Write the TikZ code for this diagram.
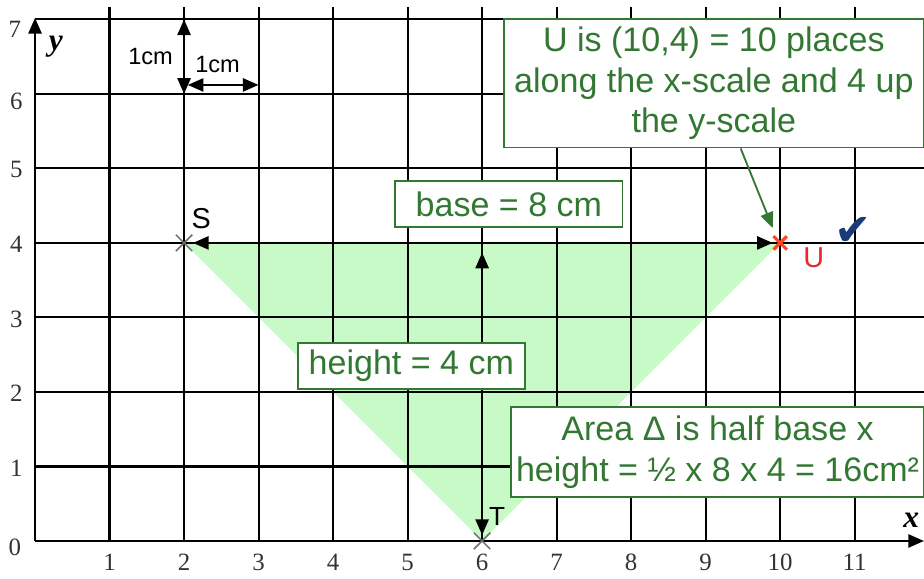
\documentclass[tikz,border=0pt]{standalone}
\usepackage{fontspec}
\setmainfont{Liberation Serif}
\setsansfont{Liberation Sans}
\newfontfamily\dejavu{DejaVu Sans}
\usetikzlibrary{arrows.meta,calc}
\definecolor{boxgreen}{RGB}{50,120,50}
\definecolor{fillgreen}{RGB}{200,250,200}
\definecolor{crossgrey}{RGB}{110,110,110}
\definecolor{ured}{RGB}{230,40,40}
\definecolor{ucross}{RGB}{255,70,30}
\definecolor{checkblue}{RGB}{25,60,120}
\tikzset{
  gridline/.style={black, line width=0.8pt},
  blackarrow/.style={black, line width=0.9pt, {Triangle[length=6pt,width=5pt]}-{Triangle[length=6pt,width=5pt]}},
  axisarrow/.style={black, line width=0.9pt, -{Triangle[length=6pt,width=5pt]}},
  infobox/.style={draw=boxgreen, line width=0.7pt, fill=white, text=boxgreen, font=\sffamily\fontsize{13}{15.5}\selectfont, align=center, inner sep=0pt},
  numlabel/.style={font=\fontsize{9.5}{10}\selectfont, text=black!80},
  smallsans/.style={font=\sffamily\fontsize{9}{10}\selectfont},
  ptlabel/.style={font=\sffamily\fontsize{11}{12}\selectfont},
  crossmark/.style={line width=0.6pt}
}
\begin{document}
\begin{tikzpicture}
\useasboundingbox (-0.47,-0.50) rectangle (11.93,7.26);
% triangle fill
\coordinate (S) at (2,4);
\coordinate (U) at (10,4);
\coordinate (T) at (6,0);
\fill[fillgreen] (S) -- (U) -- (T) -- cycle;
% grid
\foreach \x in {1,...,11} \draw[gridline] (\x,0) -- (\x,7.17);
\foreach \y in {1,...,7} \draw[gridline] (0,\y) -- (11.93,\y);
% axes
\coordinate (O) at (0,0);
\coordinate (xend) at (11.93,0);
\coordinate (yend) at (0,7.02);
\draw[axisarrow] (O) -- (xend);
\draw[axisarrow] (O) -- (yend);
\node[font=\bfseries\itshape\fontsize{12}{12}\selectfont] (xlab) at (11.76,0.28) {x};
\node[font=\bfseries\itshape\fontsize{12}{12}\selectfont] (ylab) at (0.28,6.64) {y};
% axis numbers
\node[numlabel] (n0) at (-0.27,-0.09) {0};
\foreach \x in {1,...,11} \node[numlabel] (nx\x) at (\x,-0.29) {\x};
\foreach \y in {1,...,5} \node[numlabel] (ny\y) at (-0.25,\y-0.02) {\y};
\node[numlabel] (ny6) at (-0.25,5.9) {6};
\node[numlabel] (ny7) at (-0.27,6.87) {7};
% 1cm arrows
\coordinate (va) at (2,6.0);
\coordinate (vb) at (2,7.0);
\coordinate (ha) at (2.05,6.12);
\coordinate (hb) at (3,6.12);
\draw[blackarrow] (va) -- (vb);
\draw[blackarrow] (ha) -- (hb);
\node[smallsans] (cm1) at (1.55,6.5) {1cm};
\node[smallsans] (cm2) at (2.45,6.4) {1cm};
% base and height arrows
\coordinate (bs) at (2.12,4);
\coordinate (bu) at (9.9,4);
\draw[blackarrow] (bs) -- (bu);
\coordinate (ht) at (6,3.87);
\coordinate (hbot) at (6,0.08);
\draw[blackarrow] (hbot) -- (ht);
% crosses
\draw[crossgrey, crossmark] ($(S)+(-0.11,-0.11)$) -- ($(S)+(0.11,0.11)$) ($(S)+(-0.11,0.11)$) -- ($(S)+(0.11,-0.11)$);
\draw[crossgrey, crossmark] ($(T)+(-0.11,-0.11)$) -- ($(T)+(0.11,0.11)$) ($(T)+(-0.11,0.11)$) -- ($(T)+(0.11,-0.11)$);
\draw[ucross, line width=1.2pt] ($(U)+(-0.09,-0.09)$) -- ($(U)+(0.09,0.09)$) ($(U)+(-0.09,0.09)$) -- ($(U)+(0.09,-0.09)$);
% point labels
\node[ptlabel] (Slab) at (2.23,4.32) {S};
\node[ptlabel, font=\sffamily\fontsize{10}{12}\selectfont] (Tlab) at (6.2,0.33) {T};
\node[ptlabel, text=ured] (Ulab) at (10.45,3.8) {U};
\node[text=checkblue, font=\dejavu\fontsize{17}{17}\selectfont] (check) at (10.98,4.15) {✔};
% info boxes
\node[infobox, minimum width=5.64cm, minimum height=1.72cm] (ubox) at (9.11,6.14)
  {U is (10,4) = 10 places\\along the x-scale and 4 up\\the y-scale};
\node[infobox, minimum width=3.05cm, minimum height=0.62cm] (basebox) at (6.36,4.52) {base = 8 cm};
\node[infobox, minimum width=3.04cm, minimum height=0.62cm] (heightbox) at (5.05,2.35) {height = 4 cm};
\node[infobox, minimum width=5.55cm, minimum height=1.21cm] (areabox) at (9.16,1.19)
  {Area Δ is half base x\\height = ½ x 8 x 4 = 16cm²};
% green pointer
\coordinate (gp) at (9.47,0);
\coordinate (utip) at (9.9,4.2);
\draw[boxgreen, line width=0.7pt, -{Triangle[length=6pt,width=5pt]}] (ubox.south -| gp) -- (utip);
\end{tikzpicture}
\end{document}
